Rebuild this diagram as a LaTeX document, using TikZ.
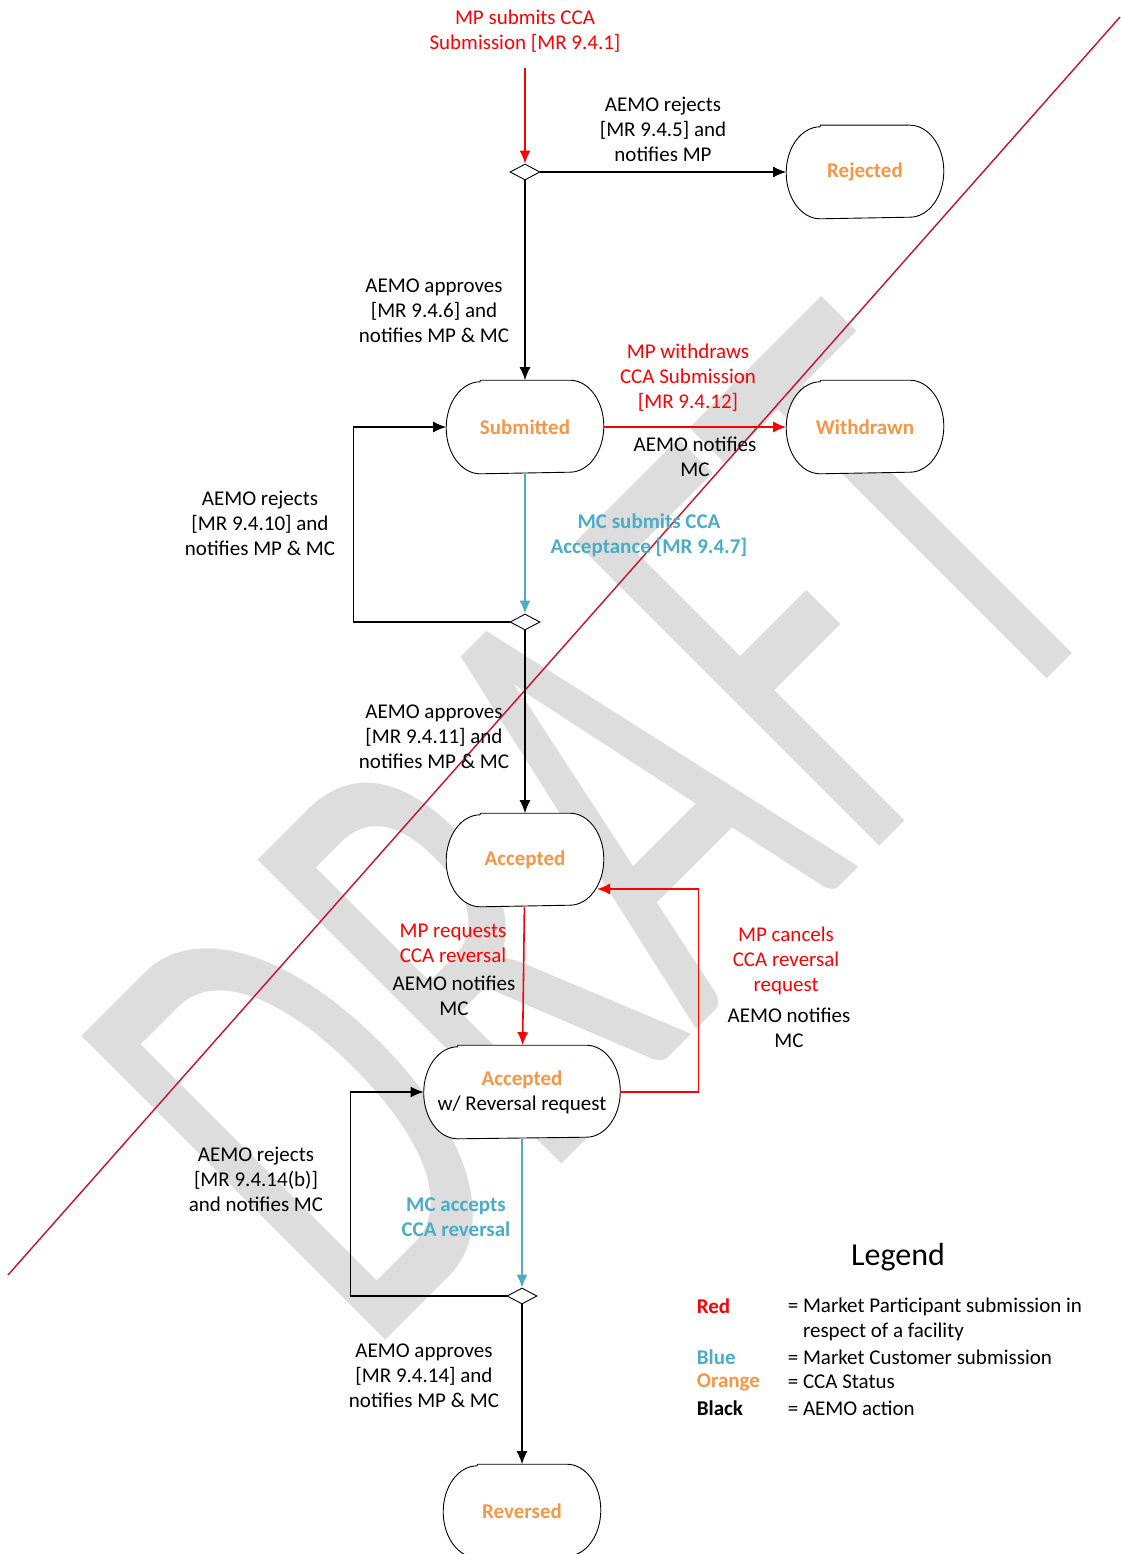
\documentclass[tikz,border=0pt]{standalone}
\usepackage{fontspec}
\setmainfont{Carlito}
\newfontfamily\wmfont[FakeStretch=0.6]{Carlito}
\usetikzlibrary{arrows.meta,shapes.geometric,backgrounds}
\definecolor{aorange}{HTML}{F79646}
\definecolor{ablue}{HTML}{4BACC6}
\definecolor{wmgray}{HTML}{DDDDDD}
\definecolor{cutred}{HTML}{C8102E}
\begin{document}
\begin{tikzpicture}[x=1pt, y=-1pt, line width=1.6pt, font=\fontsize{21}{25}\selectfont, >={Latex[length=13pt,width=11pt]},
  main/.style = {rectangle, minimum width=156pt, minimum height=92pt, text=aorange, font=\fontsize{21}{25}\selectfont\bfseries},
  border/.style = {draw, fill=white, line width=0.9pt},
  dia/.style = {draw, fill=white, diamond, aspect=2, minimum width=30pt, minimum height=16pt, inner sep=0pt, line width=0.9pt},
  lbl/.style = {align=center, inner sep=0pt},
  bold/.style = {font=\fontsize{21}{25}\selectfont\bfseries},
  key/.style = {anchor=west, inner sep=0pt},
  wm/.style = {text=wmgray, rotate=45, inner sep=0pt, font=\wmfont\fontsize{670}{670}\selectfont}]
\useasboundingbox (0,0) rectangle (1120,1554);
\node[main] (1) at (865,172) {Rejected};
\node[main] (2) at (525,427) {Submitted};
\node[main] (3) at (865,427) {Withdrawn};
\node[main] (4) at (525,860) {Accepted};
\node[main, minimum width=195pt, text=black, font=\fontsize{21}{25}\selectfont, align=center] (5) at (522,1092) {{\color{aorange}\bfseries Accepted}\\w/ Reversal request};
\node[main] (6) at (522,1511) {Reversed};
\begin{scope}[on background layer]
\node[wm] (w) at (596,826) {DRAFT};
\draw[cutred, line width=1.4pt] (8,1275) -- (1120,17);
\foreach \n in {1,...,6}
  \draw[border, line join=round] ([xshift=34pt]\n.north west) -- ([xshift=-34pt]\n.north east)
    arc[start angle=90, end angle=-90, x radius=34pt, y radius=46pt]
    -- ([xshift=34pt]\n.south west)
    arc[start angle=270, end angle=90, x radius=34pt, y radius=46pt] -- cycle;
\end{scope}
\node[dia] (7) at (525,172) {};
\node[dia] (8) at (525,622) {};
\node[dia] (9) at (522,1296) {};
\node[lbl, text=red] (l0) at (525,31) {MP submits CCA\\Submission [MR 9.4.1]};
\coordinate (s) at (525,68);
\node[lbl] (l1) at (663,129) {AEMO rejects\\{[MR 9.4.5]} and\\notifies MP};
\node[lbl] (l2) at (434,311) {AEMO approves\\{[MR 9.4.6]} and\\notifies MP \& MC};
\node[lbl, text=red] (l3) at (688,378) {MP withdraws\\CCA Submission\\{[MR 9.4.12]}};
\node[lbl] (l4) at (695,457) {AEMO notifies\\MC};
\node[lbl, text=ablue, bold] (l5) at (649,535) {MC submits CCA\\Acceptance [MR 9.4.7]};
\node[lbl] (l6) at (260,523) {AEMO rejects\\{[MR 9.4.10]} and\\notifies MP \& MC};
\node[lbl] (l7) at (434,737) {AEMO approves\\{[MR 9.4.11]} and\\notifies MP \& MC};
\node[lbl, text=red] (l8) at (453,943) {MP requests\\CCA reversal};
\node[lbl] (l9) at (454,996) {AEMO notifies\\MC};
\node[lbl, text=red] (l10) at (786,961) {MP cancels\\CCA reversal\\request};
\node[lbl] (l11) at (789,1028) {AEMO notifies\\MC};
\node[lbl] (l12) at (256,1179) {AEMO rejects\\{[MR 9.4.14(b)]}\\and notifies MC};
\node[lbl, text=ablue, bold] (l13) at (456,1217) {MC accepts\\CCA reversal};
\node[lbl] (l14) at (424,1376) {AEMO approves\\{[MR 9.4.14]} and\\notifies MP \& MC};
\draw[red, ->] (s) -- (7);
\draw[->] (7) -- (1);
\draw[->] (7) -- (2);
\draw[red, ->] (2) -- (3);
\draw[ablue, ->] (2) -- (8);
\draw[->] (8.west) -- ++(-156,0) |- (2.west);
\draw[->] (8) -- (4);
\draw[red, ->] (4) -- (5);
\coordinate (c4) at (597,889);
\draw[red, ->] (5.east) -- ++(78,0) |- (c4);
\draw[ablue, ->] (5) -- (9);
\draw[->] (9.west) -- ++(-156,0) |- (5.west);
\draw[->] (9) -- (6);
\node (lg) at (898,1257) {\fontsize{32}{38}\selectfont Legend};
\node[key, text=red, bold] (k1) at (696,1306) {Red};
\node[key, align=left] (e1) at (787,1319) {= Market Participant submission in\\\hphantom{= }respect of a facility};
\node[key, text=ablue, bold] (k2) at (696,1357) {Blue};
\node[key] (e2) at (787,1357) {= Market Customer submission};
\node[key, text=aorange, bold] (k3) at (696,1382) {Orange};
\node[key] (e3) at (787,1382) {= CCA Status};
\node[key, bold] (k4) at (696,1408) {Black};
\node[key] (e4) at (787,1408) {= AEMO action};
\end{tikzpicture}
\end{document}
